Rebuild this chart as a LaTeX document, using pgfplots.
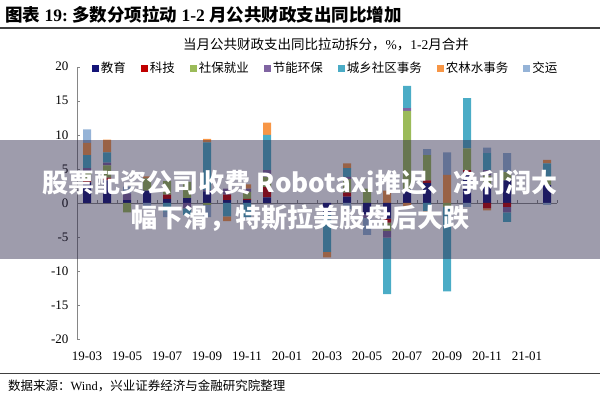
\documentclass[border=0pt]{standalone}
\usepackage{fontspec}
\setmainfont{Liberation Serif}
\newfontfamily\cjk{Noto Sans CJK SC}
\usepackage{pgfplots}
\usepackage{pgfplotstable}
\pgfplotsset{compat=1.18}

\definecolor{cEdu}{RGB}{20,20,120}
\definecolor{cSci}{RGB}{192,0,0}
\definecolor{cSoc}{RGB}{155,187,89}
\definecolor{cEnv}{RGB}{128,100,162}
\definecolor{cUrb}{RGB}{75,172,198}
\definecolor{cAgr}{RGB}{247,150,70}
\definecolor{cTra}{RGB}{149,179,215}
\definecolor{axisgray}{RGB}{134,134,134}
\definecolor{veil}{RGB}{40,35,70}

% positive parts of each item (stacked upward)
\pgfplotstableread{
x  edu  sci  soc  env  urb  agr  tra
0  3.0  0.3  1.2  0.6  1.9  1.8  2.0
1  3.3  0.4  1.8  0.4  1.5  1.9  0
2  0.4  0    0    1.0  0    0    1.0
3  1.8  0    1.8  0    0    0.3  0
4  0.6  0.6  2.0  0    0    0    0
5  0.7  0    2.4  0    0    0    0
6  1.7  0    0    0.2  7.0  0.5  0
7  0.4  0.8  0    0.9  0    0    0
8  0.4  0.2  1.0  0.5  0    0.6  0
9  0.8  1.5  1.5  1.0  5.2  1.8  0
12 0    0    0    0    0    0    0
13 0.9  0.6  2.0  0.3  1.3  0.7  0
14 0    0    2.1  0    0    0    0
15 0    0    0    0    0    1.8  0
16 2.0  0    11.5 0.4  3.3  0    0
17 2.9  0.4  3.7  0    0    0    0.9
18 0    0    0    0    0    4.1  3.3
19 4.5  0.3  3.2  0    7.4  0    0
20 2.4  0    1.6  0.8  2.5  0    0.8
21 3.3  0    1.2  0    0    0    2.8
23 2.6  0    1.2  0    2.0  0.5  0
}\pos

% negative parts of each item (stacked downward)
\pgfplotstableread{
x  edu  sci  soc  env  urb   agr  tra
0  0    0    0    0    0     0    0
1  0    0    0    0    0     0    0
2  0    0    -1.4 0    0     0    0
3  0    0    0    0    0     0    -0.9
4  0    0    0    0    -1.3  0    -0.8
5  0    0    0    -0.8 -1.0  0    0
6  0    0    -0.3 0    0     0    -1.8
7  0    0    0    0    -2.0  -0.7 0
8  0    0    0    0    -2.1  0    -0.4
9  0    0    0    0    0     0    0
12 -1.3 0    0    0    -5.9  -0.8 0
13 0    0    0    0    0     0    -0.9
14 -1.7 0    0    -0.5 0     0    -2.5
15 -2.3 -0.6 -1.2 -1.0 -8.3  0    0
16 0    0    0    0    0     -0.8 0
17 0    0    0    0    -1.2  -0.4 0
18 0    0    -0.6 0    -12.4 0    0
19 0    0    0    0    0     0    -0.6
20 0    -0.8 0    0    0     -0.3 0
21 0    -0.6 0    -0.8 -1.4  0    0
23 0    0    0    0    0     0    -0.3
}\neg

\pgfplotsset{
  frame/.style={at={(77bp,-339bp)}, anchor=south west, scale only axis,
    width=480bp, height=272.3bp, xmin=-0.5, xmax=23.5, ymin=-20, ymax=20,
    ybar stacked, bar width=8bp},
}

\begin{document}
\begin{tikzpicture}
\path[use as bounding box] (0,0) rectangle (600bp,-400bp);

\node[anchor=west, inner sep=0] at (5bp,-15bp)
  {\fontsize{17.5bp}{19bp}\selectfont\bfseries{\cjk 图表} 19:\ {\cjk 多数分项拉动} 1-2 {\cjk 月公共财政支出同比增加}};
\draw[line width=1.5bp, black!75] (0,-28bp) -- (600bp,-28bp);
\node[inner sep=0] at (326bp,-45bp)
  {\fontsize{13.5bp}{15bp}\selectfont{\cjk 当月公共财政支出同比拉动拆分，}\%{\cjk ，}1-2{\cjk 月合并}};

\begin{axis}[frame,
  axis x line*=bottom, axis y line*=left,
  x axis line style={draw=none}, y axis line style={draw=axisgray, -},
  xtick={0,2,...,22},
  xticklabels={19-03,19-05,19-07,19-09,19-11,20-01,20-03,20-05,20-07,20-09,20-11,21-01},
  x tick style={draw=none},
  ytick={-20,-15,...,20},
  yticklabels={-20,-15,-10,-5,0,5,10,15,20},
  y tick style={draw=axisgray},
  tick align=inside, major tick length=3bp,
  tick label style={font=\fontsize{13bp}{15bp}\selectfont},
  xticklabel style={yshift=-9bp},
  yticklabel style={xshift=-5bp},
  legend columns=-1,
  legend style={at={(0.518,0.995)}, anchor=center, draw=none, fill=none,
    font=\fontsize{12.5bp}{14bp}\selectfont\cjk,
    /tikz/every even column/.append style={column sep=13bp}},
  legend image code/.code={\fill[#1] (0bp,-3.5bp) rectangle (7bp,3.5bp);},
]
\addplot[fill=cEdu, draw=none] table[x=x, y=edu] {\pos};
\addplot[fill=cSci, draw=none] table[x=x, y=sci] {\pos};
\addplot[fill=cSoc, draw=none] table[x=x, y=soc] {\pos};
\addplot[fill=cEnv, draw=none] table[x=x, y=env] {\pos};
\addplot[fill=cUrb, draw=none] table[x=x, y=urb] {\pos};
\addplot[fill=cAgr, draw=none] table[x=x, y=agr] {\pos};
\addplot[fill=cTra, draw=none] table[x=x, y=tra] {\pos};
\legend{教育,科技,社保就业,节能环保,城乡社区事务,农林水事务,交运}
\end{axis}

\begin{axis}[frame,
  axis x line=middle, axis y line=none,
  x axis line style={draw=axisgray, -},
  xtick={-0.5,0.5,...,23.5}, xticklabels={},
  x tick style={draw=axisgray},
  tick align=inside, major tick length=3bp,
  ytick=\empty,
]
\addplot[fill=cEdu, draw=none] table[x=x, y=edu] {\neg};
\addplot[fill=cSci, draw=none] table[x=x, y=sci] {\neg};
\addplot[fill=cSoc, draw=none] table[x=x, y=soc] {\neg};
\addplot[fill=cEnv, draw=none] table[x=x, y=env] {\neg};
\addplot[fill=cUrb, draw=none] table[x=x, y=urb] {\neg};
\addplot[fill=cAgr, draw=none] table[x=x, y=agr] {\neg};
\addplot[fill=cTra, draw=none] table[x=x, y=tra] {\neg};
\end{axis}

\draw[line width=1bp, black!75] (0,-373bp) -- (600bp,-373bp);
\node[anchor=west, inner sep=0] at (8bp,-386bp)
  {\fontsize{12.5bp}{14bp}\selectfont{\cjk 数据来源：}Wind{\cjk ，兴业证券经济与金融研究院整理}};

\fill[veil, opacity=0.45] (0,-140bp) rectangle (600bp,-259bp);
\node[inner sep=0, text=white] at (300bp,-183bp)
  {\fontsize{26bp}{28bp}\selectfont\cjk\bfseries 股票配资公司收费 Robotaxi推迟、净利润大};
\node[inner sep=0, text=white] at (300bp,-218bp)
  {\fontsize{26bp}{28bp}\selectfont\cjk\bfseries 幅下滑，特斯拉美股盘后大跌};
\end{tikzpicture}
\end{document}
